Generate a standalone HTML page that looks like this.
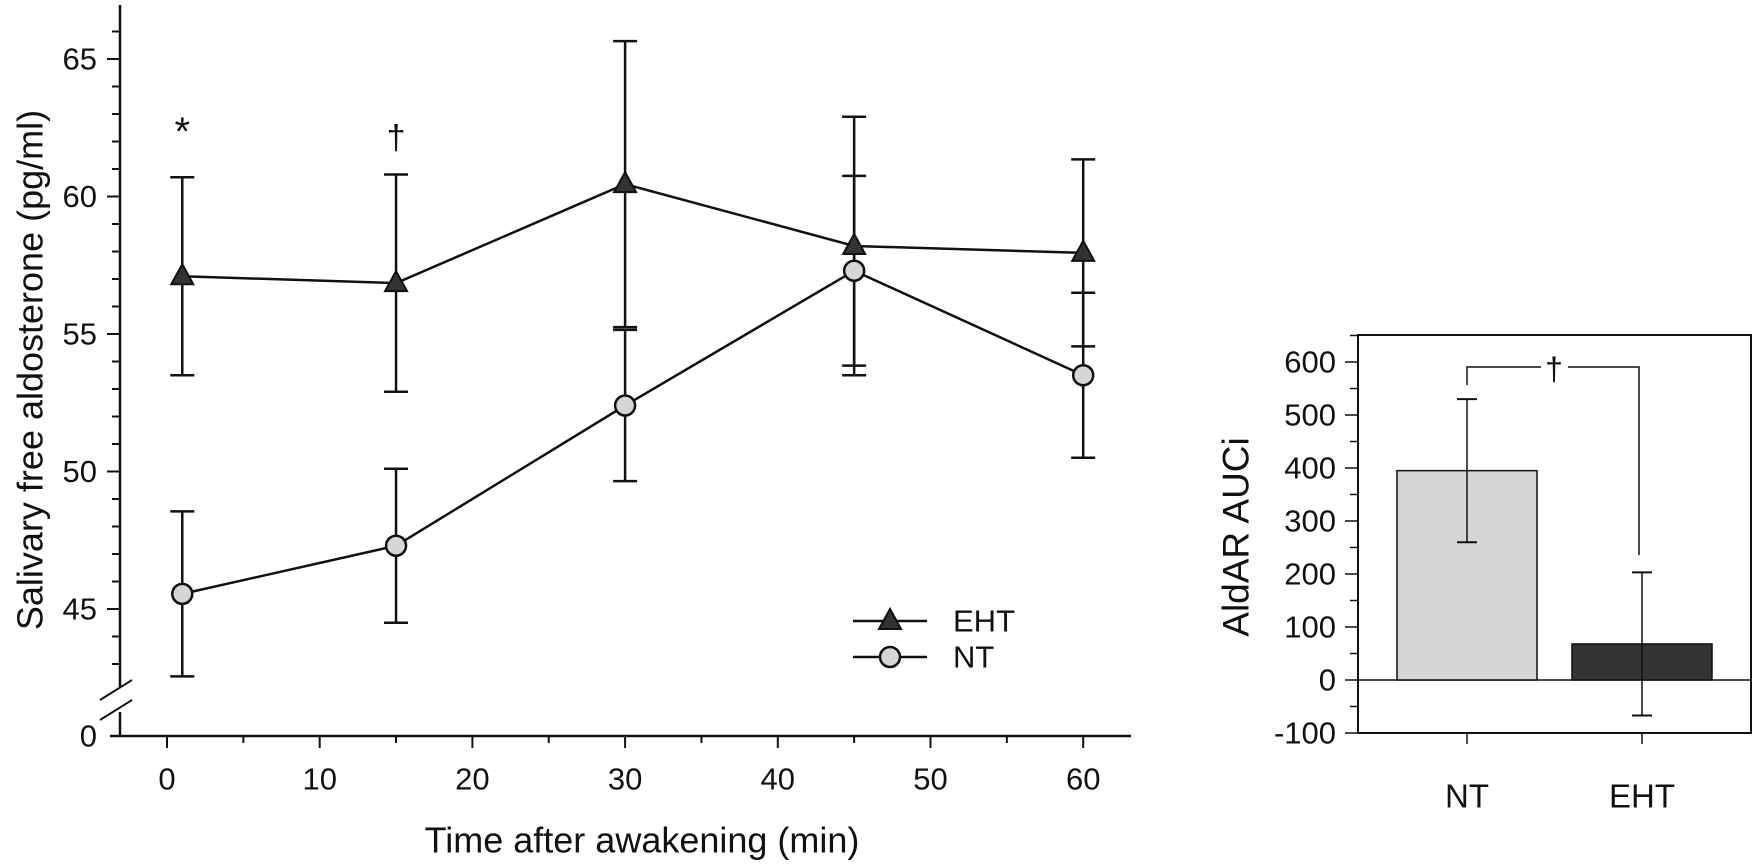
<!DOCTYPE html>
<html><head><meta charset="utf-8"><style>
html,body{margin:0;padding:0;background:#fff;}
svg{display:block;font-family:"Liberation Sans",Arial,sans-serif;}
</style></head><body>
<svg id="c" width="1755" height="865" viewBox="0 0 1755 865" xmlns="http://www.w3.org/2000/svg"></svg>
<script>
const times=[1,15,30,45,60];
const ehtMean=[57.1,56.85,60.45,58.2,57.95];
const ehtErr=[3.6,3.95,5.2,4.7,3.4];
const ntMean=[45.55,47.3,52.4,57.3,53.5];
const ntErr=[3.0,2.8,2.75,3.45,3.0];
const xTicks=[0,10,20,30,40,50,60];
const yTicks=[45,50,55,60,65];
const barCats=['NT','EHT'];
const barVals=[395,68];
const barErr=[135,135];
const barTicks=[-100,0,100,200,300,400,500,600];

const svg=document.getElementById('c');
const NS='http://www.w3.org/2000/svg';
function mk(tag,attrs,parent){const e=document.createElementNS(NS,tag);for(const k in attrs)e.setAttribute(k,attrs[k]);(parent||svg).appendChild(e);return e;}
function line(x1,y1,x2,y2,w,p){return mk('line',{x1,y1,x2,y2,stroke:'#111','stroke-width':w||2.5},p);}
function text(x,y,s,size,anchor,p){const t=mk('text',{x,y,'font-size':size,'text-anchor':anchor||'middle',fill:'#111','dominant-baseline':'central'},p);t.textContent=s;return t;}

// ---- main chart
const X=t=>167+t*15.27;
const Y=v=>334-(v-55)*27.5;
const g=mk('g',{});


line(120,5,120,688,2.5,g);
line(120,712,120,736,2.5,g);
line(100,700,132,680,2,g);
line(100,720,132,700,2,g);
for(let v=42;v<=66;v++){const maj=yTicks.includes(v);if(Y(v)>680)continue;line(maj?107:112,Y(v),120,Y(v),2,g);}
yTicks.forEach(v=>{const t=text(97,Y(v),String(v),31,'end',g);});
text(97,736,'0',31,'end',g);
line(110,736,1131,736,2.5,g);
for(let t=0;t<=60;t+=5){const maj=t%10===0;line(X(t),736,X(t),maj?748:743,2,g);}
xTicks.forEach(t=>{const e=text(X(t),779,String(t),31,'middle',g);});
const xt=text(642,840,'Time after awakening (min)',36,'middle',g);

const yt=mk('text',{x:0,y:0,'font-size':36,'text-anchor':'middle',fill:'#111','dominant-baseline':'central',transform:'translate(30,370) rotate(-90)'},g);
yt.textContent='Salivary free aldosterone (pg/ml)';

function errs(means,errsArr){means.forEach((m,i)=>{const x=X(times[i]);line(x,Y(m+errsArr[i]),x,Y(m-errsArr[i]),2.5,g);line(x-12,Y(m+errsArr[i]),x+12,Y(m+errsArr[i]),2.5,g);line(x-12,Y(m-errsArr[i]),x+12,Y(m-errsArr[i]),2.5,g);});}
errs(ehtMean,ehtErr);errs(ntMean,ntErr);
function poly(means){return means.map((m,i)=>X(times[i])+','+Y(m)).join(' ');}
const pe=mk('polyline',{points:poly(ehtMean),fill:'none',stroke:'#111','stroke-width':2.5},g);

const pn=mk('polyline',{points:poly(ntMean),fill:'none',stroke:'#111','stroke-width':2.5},g);

function tri(x,y,p){return mk('polygon',{points:`${x},${y-12} ${x-11},${y+8} ${x+11},${y+8}`,fill:'#333',stroke:'#111','stroke-width':2},p);}
function circ(x,y,p){return mk('circle',{cx:x,cy:y,r:10,fill:'#d6d6d6',stroke:'#111','stroke-width':2.5},p);}
ehtMean.forEach((m,i)=>{const e=tri(X(times[i]),Y(m),g);});
ntMean.forEach((m,i)=>{const e=circ(X(times[i]),Y(m),g);});
text(X(1),132,'*',40,'middle',g);
text(X(15),138,'†',34,'middle',g);
const lg=mk('g',{},g);
line(853,621,927,621,2.5,lg);tri(890,621,lg);text(953,621,'EHT',31,'start',lg);
line(853,657,927,657,2.5,lg);circ(890,657,lg);text(953,657,'NT',31,'start',lg);

// ---- bar chart
const bg=mk('g',{});
const BY=v=>680-v*0.53;
const barX=[1467,1642], bw=140;
mk('rect',{x:1358,y:335,width:393,height:398,fill:'none',stroke:'#111','stroke-width':2},bg);
line(1358,BY(0),1751,BY(0),1.5,bg);
for(let v=-100;v<=650;v+=50){const maj=v%100===0;line(maj?1345:1350,BY(v),1358,BY(v),1.5,bg);}
barTicks.forEach(v=>{const e=text(1336,BY(v),String(v),31,'end',bg);});
const byt=mk('text',{x:0,y:0,'font-size':37,'text-anchor':'middle',fill:'#111','dominant-baseline':'central',transform:'translate(1236,537) rotate(-90)'},bg);
byt.textContent='AldAR AUCi';
const fills=['#d6d6d6','#333'];
barVals.forEach((v,i)=>{const r=mk('rect',{x:barX[i]-bw/2,y:Math.min(BY(v),BY(0)),width:bw,height:Math.abs(BY(0)-BY(v)),fill:fills[i],stroke:'#111','stroke-width':1.5},bg);

const x=barX[i];line(x,BY(v+barErr[i]),x,BY(v-barErr[i]),1.5,bg);line(x-10,BY(v+barErr[i]),x+10,BY(v+barErr[i]),2,bg);line(x-10,BY(v-barErr[i]),x+10,BY(v-barErr[i]),2,bg);
line(x,733,x,744,1.5,bg);
const l=text(x,796,barCats[i],33,'middle',bg);});
const bk=mk('polyline',{points:`${barX[0]},385 ${barX[0]},367 1541,367`,fill:'none',stroke:'#111','stroke-width':1.5},bg);

mk('polyline',{points:`1568,367 ${barX[1]-3},367 ${barX[1]-3},555`,fill:'none',stroke:'#111','stroke-width':1.5},bg);
text(1554,369,'†',32,'middle',bg);
</script>
</body></html>
